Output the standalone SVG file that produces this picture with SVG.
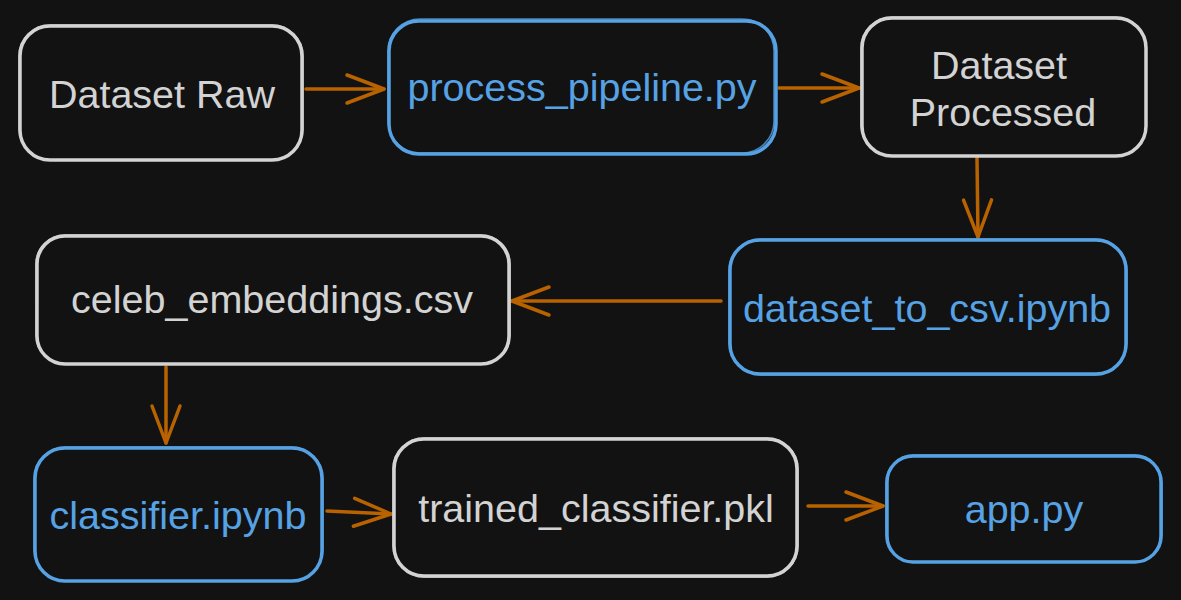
<svg xmlns="http://www.w3.org/2000/svg" width="1181" height="600" viewBox="0 0 1181 600">
  <style>
    .bg { fill: #121212; }
    .box { fill: #121212; stroke-width: 3.5; stroke-linejoin: round; }
    .sketch { fill: none; stroke-width: 1.5; opacity: 0.8; }
    .data { stroke: #d3d3d3; }
    .code { stroke: #56a2e4; }
    .label { font-family: "Liberation Sans", Arial, sans-serif; font-size: 39.5px; text-anchor: middle; }
    .label.data { fill: #d3d3d3; stroke: none; }
    .label.code { fill: #56a2e4; stroke: none; }
    .edge { fill: none; stroke: #b86200; stroke-width: 3.5; stroke-linecap: round; marker-end: url(#head); }
  </style>
  <defs>
    <marker id="head" markerUnits="userSpaceOnUse" markerWidth="44" markerHeight="36" refX="40" refY="18" orient="auto" overflow="visible">
      <path d="M3,4 L40,18 L3,32" fill="none" stroke="#b86200" stroke-width="3.5" stroke-linecap="round" stroke-linejoin="round"/>
    </marker>
  </defs>

  <rect class="bg" x="0" y="0" width="1181" height="600"/>

  <g id="connectors">
    <path class="edge" d="M306,89 L384,89"/>
    <path class="edge" d="M779,88 L859,88"/>
    <path class="edge" d="M977,158 L978,237"/>
    <path class="edge" d="M721,301 L512,301"/>
    <path class="edge" d="M166,367 L166,443"/>
    <path class="edge" d="M327,511 L391,514"/>
    <path class="edge" d="M808,506 L883,506"/>
  </g>

  <g id="dataset-raw">
    <rect class="box data" x="20" y="26" width="282" height="134" rx="30"/>
    <rect class="sketch data" x="19" y="25" width="284" height="135" rx="31"/>
    <text class="label data" x="162" y="108">Dataset Raw</text>
  </g>

  <g id="process-pipeline">
    <rect class="box code" x="389" y="21" width="387" height="133" rx="30"/>
    <rect class="sketch code" x="388" y="19" width="386" height="134" rx="32"/>
    <text class="label code" x="582" y="101">process_pipeline.py</text>
  </g>

  <g id="dataset-processed">
    <rect class="box data" x="862" y="18" width="284" height="138" rx="30"/>
    <rect class="sketch data" x="861" y="17" width="285" height="139" rx="31"/>
    <text class="label data"><tspan x="999" y="79">Dataset</tspan><tspan x="1003" y="126">Processed</tspan></text>
  </g>

  <g id="dataset-to-csv">
    <rect class="box code" x="730" y="240" width="396" height="134" rx="30"/>
    <rect class="sketch code" x="729" y="239" width="398" height="136" rx="32"/>
    <text class="label code" x="927" y="322">dataset_to_csv.ipynb</text>
  </g>

  <g id="celeb-embeddings">
    <rect class="box data" x="37" y="236" width="472" height="128" rx="28"/>
    <rect class="sketch data" x="36" y="235" width="474" height="129" rx="29"/>
    <text class="label data" x="272" y="313">celeb_embeddings.csv</text>
  </g>

  <g id="classifier">
    <rect class="box code" x="35" y="448" width="287" height="133" rx="30"/>
    <rect class="sketch code" x="34" y="447" width="289" height="134" rx="32"/>
    <text class="label code" x="178" y="529">classifier.ipynb</text>
  </g>

  <g id="trained-classifier">
    <rect class="box data" x="394" y="439" width="403" height="137" rx="30"/>
    <rect class="sketch data" x="393" y="438" width="405" height="139" rx="31"/>
    <text class="label data" x="596" y="522">trained_classifier.pkl</text>
  </g>

  <g id="app">
    <rect class="box code" x="887" y="456" width="274" height="106" rx="26"/>
    <rect class="sketch code" x="886" y="455" width="276" height="107" rx="28"/>
    <text class="label code" x="1024" y="523">app.py</text>
  </g>
</svg>
